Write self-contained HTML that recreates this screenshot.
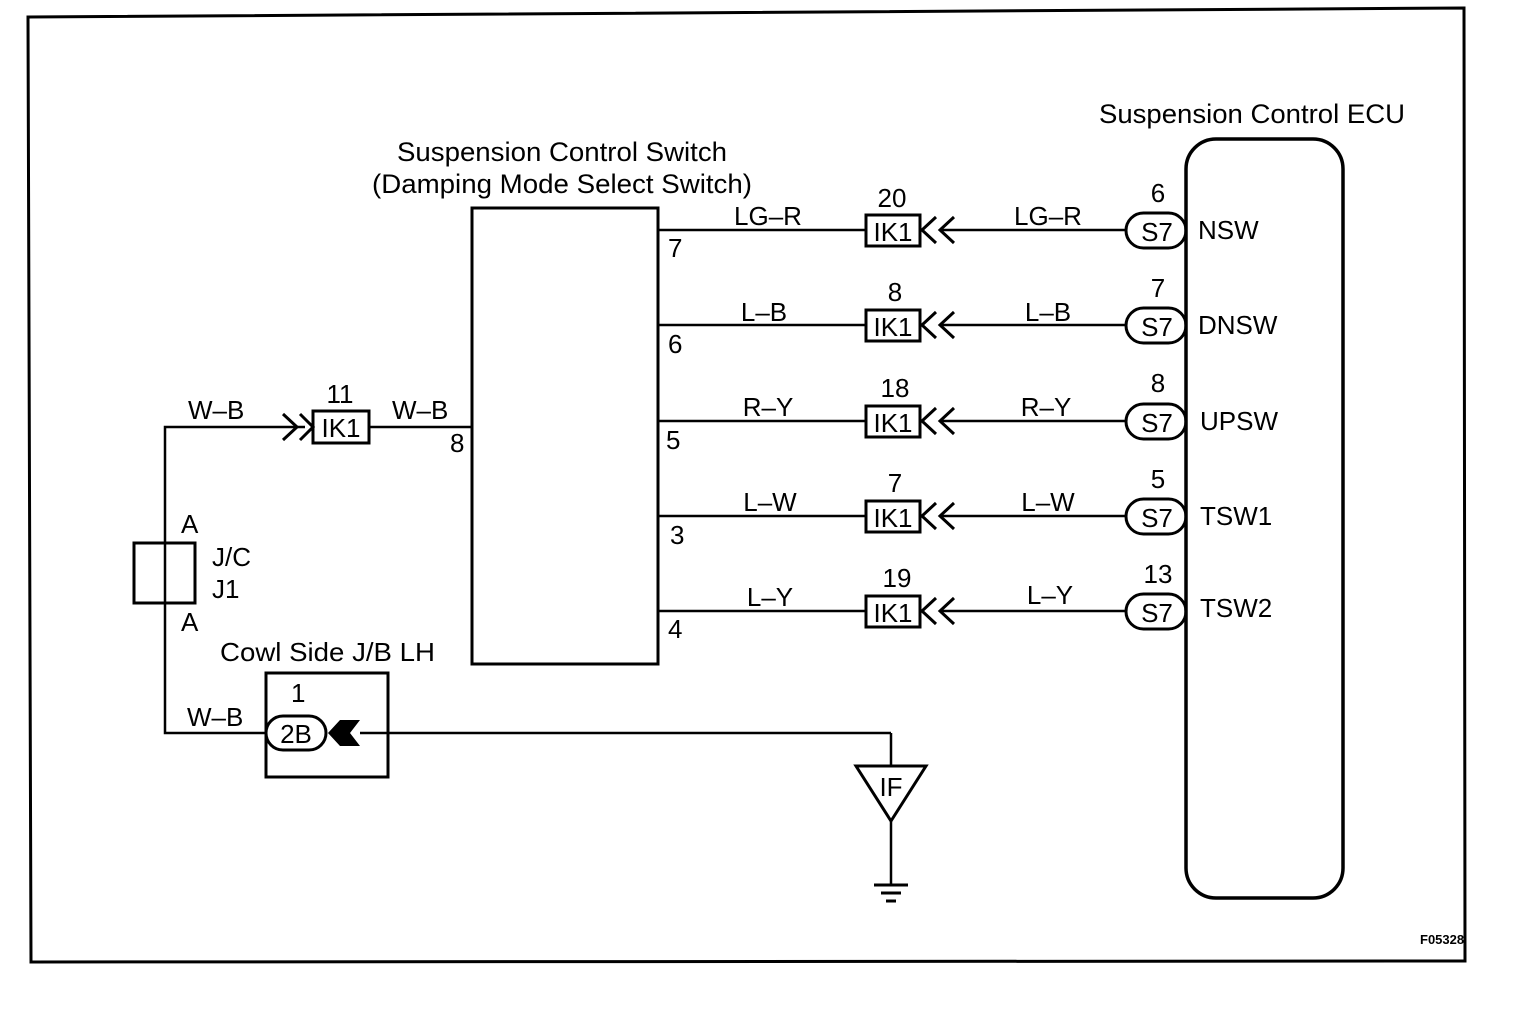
<!DOCTYPE html>
<html><head><meta charset="utf-8"><style>
html,body{margin:0;padding:0;background:#fff}
svg text{font-family:"Liberation Sans",Arial,sans-serif;fill:#000}
</style></head><body>
<svg width="1520" height="1028" viewBox="0 0 1520 1028" xmlns="http://www.w3.org/2000/svg">
<g fill="none" stroke="#000">
<polygon points="28,17 1464,8 1465,961 31,962" stroke-width="3"/>
<rect x="472" y="208" width="186" height="456" stroke-width="3"/>
<rect x="1186" y="139" width="157" height="759" rx="30" ry="30" stroke-width="3.5"/>
</g>

<text x="562" y="161" font-size="27" text-anchor="middle" textLength="330" lengthAdjust="spacingAndGlyphs">Suspension Control Switch</text>
<text x="562" y="193" font-size="27" text-anchor="middle" textLength="380" lengthAdjust="spacingAndGlyphs">(Damping Mode Select Switch)</text>
<text x="1252" y="123" font-size="27" text-anchor="middle" textLength="306" lengthAdjust="spacingAndGlyphs">Suspension Control ECU</text>

<g stroke="#000" fill="none" stroke-width="2.5">
<line x1="658" y1="230" x2="866" y2="230"/>
<line x1="658" y1="325" x2="866" y2="325"/>
<line x1="658" y1="421" x2="866" y2="421"/>
<line x1="658" y1="516" x2="866" y2="516"/>
<line x1="658" y1="611" x2="866" y2="611"/>
<line x1="942" y1="230" x2="1126" y2="230"/>
<line x1="942" y1="325" x2="1126" y2="325"/>
<line x1="942" y1="421" x2="1126" y2="421"/>
<line x1="942" y1="516" x2="1126" y2="516"/>
<line x1="942" y1="611" x2="1126" y2="611"/>
</g>
<g stroke="#000" fill="none" stroke-width="3">
<rect x="866" y="215" width="54" height="31"/>
<rect x="866" y="310" width="54" height="31"/>
<rect x="866" y="406" width="54" height="31"/>
<rect x="866" y="501" width="54" height="31"/>
<rect x="866" y="596" width="54" height="31"/>
<path d="M936,217 L922,230 L936,243 M954,217 L940,230 L954,243"/>
<path d="M936,312 L922,325 L936,338 M954,312 L940,325 L954,338"/>
<path d="M936,408 L922,421 L936,434 M954,408 L940,421 L954,434"/>
<path d="M936,503 L922,516 L936,529 M954,503 L940,516 L954,529"/>
<path d="M936,598 L922,611 L936,624 M954,598 L940,611 L954,624"/>
<rect x="1126" y="213" width="60" height="35" rx="17.5"/>
<rect x="1126" y="308" width="60" height="35" rx="17.5"/>
<rect x="1126" y="404" width="60" height="35" rx="17.5"/>
<rect x="1126" y="499" width="60" height="35" rx="17.5"/>
<rect x="1126" y="594" width="60" height="35" rx="17.5"/>
</g>
<g font-size="26" text-anchor="middle">
<text x="893" y="241">IK1</text><text x="893" y="336">IK1</text><text x="893" y="432">IK1</text><text x="893" y="527">IK1</text><text x="893" y="622">IK1</text>
<text x="1157" y="241">S7</text><text x="1157" y="336">S7</text><text x="1157" y="432">S7</text><text x="1157" y="527">S7</text><text x="1157" y="622">S7</text>
<text x="892" y="207">20</text><text x="895" y="301">8</text><text x="895" y="397">18</text><text x="895" y="492">7</text><text x="897" y="587">19</text>
<text x="1158" y="202">6</text><text x="1158" y="297">7</text><text x="1158" y="392">8</text><text x="1158" y="488">5</text><text x="1158" y="583">13</text>
<text x="768" y="225">LG–R</text><text x="764" y="321">L–B</text><text x="768" y="416">R–Y</text><text x="770" y="511">L–W</text><text x="770" y="606">L–Y</text>
<text x="1048" y="225">LG–R</text><text x="1048" y="321">L–B</text><text x="1046" y="416">R–Y</text><text x="1048" y="511">L–W</text><text x="1050" y="604">L–Y</text>
</g>
<g font-size="26">
<text x="668" y="257">7</text><text x="668" y="353">6</text><text x="666" y="449">5</text><text x="670" y="544">3</text><text x="668" y="638">4</text>
<text x="1198" y="239">NSW</text><text x="1198" y="334">DNSW</text><text x="1200" y="430">UPSW</text><text x="1200" y="525">TSW1</text><text x="1200" y="617">TSW2</text>
</g>

<g stroke="#000" fill="none" stroke-width="2.5">
<polyline points="305,427 165,427 165,733 266,733"/>
<line x1="370" y1="427" x2="472" y2="427"/>
<line x1="360" y1="733" x2="891" y2="733"/>
<line x1="891" y1="733" x2="891" y2="766"/>
<line x1="891" y1="820" x2="891" y2="884"/>
</g>
<g stroke="#000" fill="none" stroke-width="3">
<path d="M283,414 L297,427 L283,440 M300,414 L313,427 L300,440"/>
<rect x="313" y="411" width="56" height="32"/>
<rect x="134" y="543" width="61" height="60"/>
<rect x="266" y="673" width="122" height="104"/>
<rect x="266" y="716" width="60" height="34" rx="17"/>
<polygon points="856,766 926,766 891,821"/>
<line x1="874" y1="885" x2="908" y2="885"/>
<line x1="881" y1="893" x2="901" y2="893"/>
<line x1="886" y1="901" x2="896" y2="901"/>
</g>
<polygon points="328,733 340,720 360,720 350,733 360,746 340,746" fill="#000"/>
<g font-size="26">
<text x="341" y="437" text-anchor="middle">IK1</text>
<text x="340" y="403" text-anchor="middle">11</text>
<text x="188" y="419">W–B</text>
<text x="392" y="419">W–B</text>
<text x="450" y="452">8</text>
<text x="181" y="533">A</text>
<text x="181" y="631">A</text>
<text x="212" y="566">J/C</text>
<text x="212" y="598">J1</text>
<text x="220" y="661" textLength="215" lengthAdjust="spacingAndGlyphs">Cowl Side J/B LH</text>
<text x="291" y="702">1</text>
<text x="187" y="726">W–B</text>
<text x="296" y="743" text-anchor="middle">2B</text>
<text x="891" y="796" text-anchor="middle">IF</text>
</g>
<text x="1420" y="944" font-size="13" font-weight="bold">F05328</text>
</svg>
</body></html>
